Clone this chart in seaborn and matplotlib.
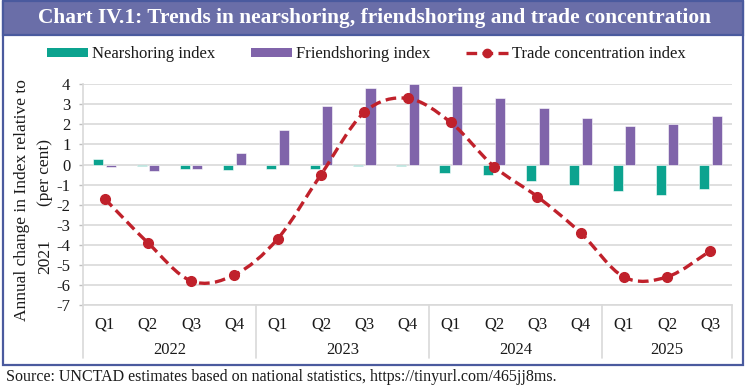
import numpy as np
import pandas as pd
import matplotlib
matplotlib.use("Agg")
import matplotlib.pyplot as plt
import seaborn as sns
from matplotlib.path import Path
from matplotlib.patches import PathPatch, Rectangle, Patch
from matplotlib.lines import Line2D
import matplotlib.transforms as mtransforms

# ---------------- data ----------------
quarters = ["Q1", "Q2", "Q3", "Q4", "Q1", "Q2", "Q3", "Q4",
            "Q1", "Q2", "Q3", "Q4", "Q1", "Q2", "Q3"]
years = ["2022", "2023", "2024", "2025"]
year_counts = [4, 4, 4, 3]
nearshoring = [0.3, -0.05, -0.2, -0.25, -0.2, -0.2, -0.05, -0.05,
               -0.4, -0.5, -0.8, -1.0, -1.3, -1.5, -1.2]
friendshoring = [-0.1, -0.3, -0.2, 0.6, 1.7, 2.9, 3.8, 4.0,
                 3.9, 3.3, 2.8, 2.3, 1.9, 2.0, 2.4]
trade_concentration = [-1.7, -3.9, -5.8, -5.5, -3.7, -0.5, 2.6, 3.3,
                       2.1, -0.1, -1.6, -3.4, -5.6, -5.6, -4.3]
series_names = ["Nearshoring index", "Friendshoring index", "Trade concentration index"]
yticks = list(range(-7, 5))

title = "Chart IV.1: Trends in nearshoring, friendshoring and trade concentration"
source = "Source: UNCTAD estimates based on national statistics, https://tinyurl.com/465jj8ms."

# ---------------- style ----------------
TEAL = "#0ca38f"
PURPLE = "#8064aa"
RED = "#c0212b"
GRID = "#d9d9d9"
FRAME = "#4a5a9e"
TITLEBAR = "#6a6ea8"
TXT = "#1a1a1a"

sns.set_style("white")
plt.rcParams["font.family"] = ["Liberation Serif", "DejaVu Serif"]

W, H = 750, 388
fig = plt.figure(figsize=(W / 100, H / 100), dpi=100)


def fx(px):
    return px / W


def fy(py):
    return 1 - py / H


ax_left, ax_right, ax_top, ax_bottom = 83, 732, 84.3, 305
ax = fig.add_axes([fx(ax_left), fy(ax_bottom), fx(ax_right - ax_left), (ax_bottom - ax_top) / H])

periods = [f"{y} {q}" for y, n in zip(years, year_counts) for q in quarters[:n]]
df = pd.DataFrame({
    "period": periods * 2,
    "series": [series_names[0]] * len(periods) + [series_names[1]] * len(periods),
    "value": nearshoring + friendshoring,
})

sns.barplot(data=df, x="period", y="value", hue="series", order=periods,
            hue_order=series_names[:2], palette=[TEAL, PURPLE], saturation=1,
            width=0.58, gap=0.2, ax=ax, legend=False, edgecolor="white", linewidth=0.4)

# smoothed trade concentration line (Bezier through the data points)
xs = np.arange(len(trade_concentration), dtype=float)
ys = np.array(trade_concentration, dtype=float)
pts = np.column_stack([xs, ys])
verts = [pts[0]]
codes = [Path.MOVETO]
n = len(pts)
for i in range(n - 1):
    p0, p1 = pts[i], pts[i + 1]
    pm = pts[i - 1] if i > 0 else pts[i]
    pp = pts[i + 2] if i + 2 < n else pts[i + 1]
    c1 = p0 + (p1 - pm) / 6.0
    c2 = p1 - (pp - p0) / 6.0
    verts += [c1, c2, p1]
    codes += [Path.CURVE4] * 3
patch = PathPatch(Path(verts, codes), fill=False, edgecolor=RED, lw=2.4,
                  linestyle=(0, (3.2, 1.6)), capstyle="butt", zorder=4)
ax.add_patch(patch)
ax.plot(xs, ys, linestyle="none", marker="o", ms=7, color=RED, zorder=5)

# axes styling
ax.set_xlim(-0.5, len(periods) - 0.5)
ax.set_ylim(-7, 4)
ax.set_yticks(yticks)
ax.set_yticklabels([str(t) for t in yticks])
ax.set_xticks(range(len(periods)))
ax.set_xticklabels(quarters)
ax.set_xlabel("")
ax.set_ylabel("")
ax.yaxis.grid(True, color=GRID, lw=1.2)
ax.xaxis.grid(False)
ax.set_axisbelow(True)
for s in ["top", "right"]:
    ax.spines[s].set_visible(False)
for s in ["left", "bottom"]:
    ax.spines[s].set_color(GRID)
    ax.spines[s].set_linewidth(1.2)
ax.tick_params(axis="y", left=True, length=3, width=1, color="#bfbfbf", pad=6,
               labelsize=12, labelcolor=TXT)
ax.tick_params(axis="x", bottom=False, length=0, pad=8, labelsize=12, labelcolor=TXT)

# year group labels and separators
trans = mtransforms.blended_transform_factory(ax.transData, ax.transAxes)
axh = ax_bottom - ax_top
sep_bottom = -(358 - ax_bottom) / axh
year_y = -(350 - ax_bottom) / axh
start = 0
bounds = [-0.5]
for y, cnt in zip(years, year_counts):
    centre = start + (cnt - 1) / 2
    ax.text(centre, year_y, y, transform=trans, ha="center", va="center",
            fontsize=12, color=TXT)
    start += cnt
    bounds.append(start - 0.5)
for b in bounds:
    ax.add_line(Line2D([b, b], [0, sep_bottom], transform=trans, color=GRID,
                       lw=1.2, clip_on=False))

# y axis label (two columns)
fig.text(fx(22), fy(200), "Annual change in Index relative to", rotation=90,
         ha="center", va="center", fontsize=12.5, color=TXT)
fig.text(fx(45), fy(172), "(per cent)", rotation=90, ha="center", va="center",
         fontsize=12.5, color=TXT)
fig.text(fx(45), fy(257), "2021", rotation=90, ha="center", va="center",
         fontsize=12.5, color=TXT)

# frame + title bar
fig.patches.append(Rectangle((fx(3), fy(365)), fx(740), (365 - 1.5) / H,
                             transform=fig.transFigure, fill=False,
                             edgecolor=FRAME, lw=1.6, zorder=0))
fig.patches.append(Rectangle((fx(3), fy(35)), fx(740), (35 - 1.5) / H,
                             transform=fig.transFigure, facecolor=TITLEBAR,
                             edgecolor=FRAME, lw=1.6, zorder=1))
fig.text(fx(375), fy(18.5), title, ha="center", va="center", fontsize=15.4,
         fontweight="bold", color="white")

# legend
handles = [
    Patch(facecolor=TEAL, edgecolor="none", label=series_names[0]),
    Patch(facecolor=PURPLE, edgecolor="none", label=series_names[1]),
    Line2D([0], [0], color=RED, lw=2.4, linestyle=(0, (3.2, 1.6)), marker="o",
           ms=6, label=series_names[2]),
]
leg = fig.legend(handles=handles, loc="center", bbox_to_anchor=(fx(366), fy(54)),
                 ncol=3, frameon=False, fontsize=12, handlelength=2.5,
                 handleheight=0.45, handletextpad=0.25, columnspacing=2.1)
for t in leg.get_texts():
    t.set_color(TXT)

# source
fig.text(fx(6), fy(377), source, ha="left", va="center", fontsize=11.5, color=TXT)

fig.savefig("out.png", dpi=100)
